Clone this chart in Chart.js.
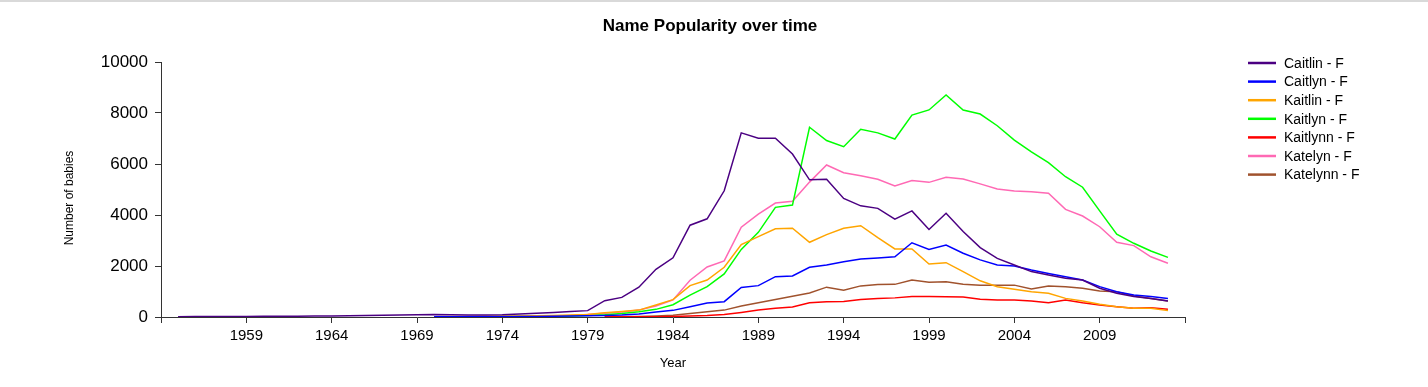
<!DOCTYPE html>
<html>
<head>
<meta charset="utf-8">
<title>Name Popularity over time</title>
<script src="https://cdn.jsdelivr.net/npm/chart.js@4.4.1/dist/chart.umd.min.js"></script>
<style>
  html, body { margin: 0; padding: 0; background: #fff; }
  #wrap { position: relative; width: 1428px; height: 387px; }
</style>
</head>
<body>
<div id="wrap"><canvas id="nameChart" width="1428" height="387"></canvas></div>
<script>
// ---------- Data ----------
var years = [];
for (var yr = 1955; yr <= 2013; yr++) years.push(yr);

var names = ["Caitlin - F", "Caitlyn - F", "Kaitlin - F", "Kaitlyn - F", "Kaitlynn - F", "Katelyn - F", "Katelynn - F"];
var colors = ["#4b0082", "#0000ff", "#ffa500", "#00ff00", "#ff0000", "#ff69b4", "#a0522d"];

var N = null;
// 1955 .. 2013
var caitlin = [10, 15, 15, 20, 20, 25, 25, 30, 35, 40,
    45, 55, 65, 75, 85, 100, 85, 80, 80, 90,
    120, 150, 180, 220, 250, 640, 770, 1170, 1870, 2320,
    3600, 3850, 4950, 7220, 7010, 7010, 6390, 5380, 5400, 4650,
    4360, 4260, 3840, 4160, 3430, 4070, 3350, 2720, 2300, 2040,
    1780, 1650, 1520, 1450, 1130, 930, 800, 730, 630];
var caitlyn = [N, N, N, N, N, N, N, N, N, N,
    N, N, N, N, N, 5, 5, 10, 10, 10,
    15, 20, 30, 40, 50, 60, 80, 120, 200, 260,
    400, 550, 600, 1160, 1230, 1580, 1610, 1950, 2040, 2170,
    2270, 2310, 2360, 2910, 2650, 2820, 2500, 2240, 2040, 2000,
    1840, 1710, 1580, 1450, 1190, 990, 860, 800, 730];
var kaitlin = [N, N, N, N, N, N, N, N, N, N,
    N, N, N, N, N, 10, 15, 20, 25, 30,
    40, 50, 60, 80, 100, 170, 220, 270, 470, 680,
    1230, 1450, 1950, 2840, 3150, 3460, 3480, 2930, 3230, 3480,
    3580, 3110, 2670, 2670, 2080, 2130, 1780, 1420, 1190, 1090,
    990, 930, 730, 630, 500, 400, 340, 340, 250];
var kaitlyn = [N, N, N, N, N, N, N, N, N, N,
    N, N, N, N, N, 5, 5, 10, 10, 15,
    20, 25, 30, 40, 60, 90, 140, 210, 300, 480,
    860, 1190, 1690, 2650, 3320, 4300, 4390, 7440, 6920, 6680,
    7360, 7220, 6980, 7920, 8120, 8710, 8120, 7960, 7500, 6940,
    6480, 6050, 5500, 5090, 4160, 3250, 2890, 2590, 2340];
var kaitlynn = [N, N, N, N, N, N, N, N, N, N,
    N, N, N, N, N, N, N, N, N, N,
    N, N, N, N, N, 5, 5, 10, 10, 20,
    40, 60, 100, 180, 270, 340, 390, 560, 600, 610,
    690, 730, 750, 800, 800, 790, 780, 700, 670, 670,
    630, 560, 670, 560, 470, 400, 340, 360, 300];
var katelyn = [N, N, N, N, N, N, N, N, N, N,
    N, N, N, N, N, 10, 10, 15, 20, 25,
    30, 40, 50, 60, 100, 150, 200, 270, 430, 670,
    1440, 1960, 2200, 3520, 4030, 4470, 4540, 5290, 5960, 5660,
    5540, 5400, 5140, 5350, 5280, 5480, 5410, 5220, 5020, 4940,
    4910, 4850, 4220, 3960, 3540, 2930, 2800, 2360, 2110];
var katelynn = [N, N, N, N, N, N, N, N, N, N,
    N, N, N, N, N, N, N, N, N, N,
    N, N, N, N, N, 5, 10, 20, 40, 70,
    140, 210, 270, 430, 560, 690, 810, 940, 1170, 1050,
    1220, 1270, 1280, 1450, 1360, 1380, 1280, 1250, 1250, 1250,
    1100, 1220, 1190, 1130, 1020, 990, 820, 730, 630];

var series = [caitlin, caitlyn, kaitlin, kaitlyn, kaitlynn, katelyn, katelynn];

// axis ticks
var xMin = 1954, xMax = 2014;
var xTickValues = [1954, 1959, 1964, 1969, 1974, 1979, 1984, 1989, 1994, 1999, 2004, 2009, 2014];
var yTickValues = [0, 2000, 4000, 6000, 8000, 10000];

var FONT = "Arial, 'Liberation Sans', sans-serif";

// ---------- Build datasets ----------
var datasets = series.map(function (vals, i) {
    return {
        label: names[i],
        data: years.map(function (y, j) { return { x: y, y: vals[j] }; }),
        borderColor: colors[i],
        backgroundColor: colors[i],
        borderWidth: 1.5,
        pointRadius: 0,
        tension: 0,
        fill: false
    };
});

// ---------- Title, axis titles, legend, top rule ----------
var decorations = {
    id: "decorations",
    afterDraw: function (chart) {
        var ctx = chart.ctx;
        var area = chart.chartArea;
        ctx.save();

        // grey rule along the top edge
        ctx.fillStyle = "#d9d9d9";
        ctx.fillRect(0, 0, chart.width, 2);

        ctx.fillStyle = "#000";
        ctx.textAlign = "center";
        ctx.textBaseline = "middle";
        ctx.font = "bold 17px " + FONT;
        ctx.fillText("Name Popularity over time", chart.width / 2 - 4, 26);

        ctx.font = "13px " + FONT;
        ctx.fillText("Year", (area.left + area.right) / 2, 363);

        ctx.font = "12px " + FONT;
        ctx.save();
        ctx.translate(70, 198);
        ctx.rotate(-Math.PI / 2);
        ctx.fillText("Number of babies", 0, 0);
        ctx.restore();

        // legend
        ctx.textAlign = "left";
        ctx.font = "14px " + FONT;
        chart.data.datasets.forEach(function (ds, i) {
            var y = 63 + i * 18.6;
            ctx.strokeStyle = ds.borderColor;
            ctx.lineWidth = 2.5;
            ctx.beginPath();
            ctx.moveTo(1248, y);
            ctx.lineTo(1276, y);
            ctx.stroke();
            ctx.fillStyle = "#000";
            ctx.fillText(ds.label, 1284, y + 1);
        });
        ctx.restore();
    }
};

new Chart(document.getElementById("nameChart"), {
    type: "line",
    data: { datasets: datasets },
    options: {
        responsive: false,
        animation: false,
        devicePixelRatio: 1,
        layout: { padding: { left: 0, top: 62, right: 243, bottom: 0 } },
        plugins: {
            legend: { display: false },
            title: { display: false },
            tooltip: { enabled: false }
        },
        scales: {
            x: {
                type: "linear",
                min: xMin,
                max: xMax,
                afterBuildTicks: function (scale) {
                    scale.ticks = xTickValues.map(function (v) { return { value: v }; });
                },
                afterFit: function (scale) { scale.height = 70; },
                ticks: {
                    autoSkip: false,
                    maxRotation: 0,
                    color: "#000",
                    padding: 4,
                    font: { family: FONT, size: 15 },
                    callback: function (v) { return (v === xMin || v === xMax) ? "" : String(v); }
                },
                grid: { drawOnChartArea: false, drawTicks: true, tickLength: 6, color: "#333" },
                border: { display: true, color: "#333", width: 1 }
            },
            y: {
                min: 0,
                max: 10000,
                afterBuildTicks: function (scale) {
                    scale.ticks = yTickValues.map(function (v) { return { value: v }; });
                },
                afterFit: function (scale) { scale.width = 161; },
                ticks: {
                    color: "#000",
                    padding: 7,
                    font: { family: FONT, size: 17 },
                    callback: function (v) { return String(v); }
                },
                grid: { drawOnChartArea: false, drawTicks: true, tickLength: 6, color: "#333" },
                border: { display: true, color: "#333", width: 1 }
            }
        }
    },
    plugins: [decorations]
});
</script>
</body>
</html>
